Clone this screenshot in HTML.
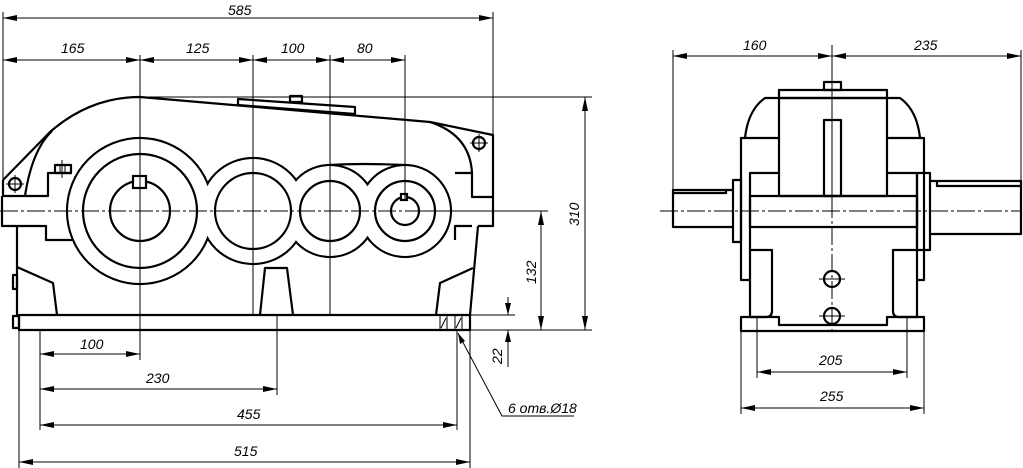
<!DOCTYPE html>
<html><head><meta charset="utf-8">
<style>
html,body{margin:0;padding:0;background:#fff;}
svg{display:block;}
text{font-family:"Liberation Sans",sans-serif;font-style:italic;font-size:14px;fill:#000;}
.k{fill:none;stroke:#000;stroke-width:2.2;stroke-linejoin:round;}
.w{fill:#fff;stroke:#000;stroke-width:2.2;}
.t{fill:none;stroke:#000;stroke-width:1;}
.c{fill:none;stroke:#000;stroke-width:1;stroke-dasharray:18 3 3 3;}
.d{fill:none;stroke:#000;stroke-width:1;marker-start:url(#a);marker-end:url(#a);}
</style></head>
<body>
<svg width="1023" height="468" viewBox="0 0 1023 468" xmlns="http://www.w3.org/2000/svg">
<defs>
<marker id="a" viewBox="0 0 14 6" refX="14" refY="3" markerWidth="14" markerHeight="6" orient="auto-start-reverse" markerUnits="userSpaceOnUse">
<path d="M0,0 L14,3 L0,6 Z" fill="#000"/></marker>
</defs>

<!-- ===== LEFT VIEW ===== -->
<!-- housing upper -->
<path class="k" d="M2,196 L2,226 L46,226 L46,240 L72,240"/>
<path class="k" d="M2,196 L48,196 L48,173 L72,173"/>
<path class="k" d="M3,180 L50,132 Q90,97 140,97 L430,122 Q470,135 472,173 L472,197 L493,197 L493,226 L478,226"/>
<path class="k" d="M430,122 L493,135 L493,197"/>
<path class="k" d="M25,196 Q32,150 52,131"/>
<path class="k" d="M3,180 L3,196"/>
<path class="k" d="M472,173 L455,173"/>
<path class="k" d="M472,226 L455,226 L455,240"/>
<!-- lower body -->
<path class="k" d="M17,226 L17,315"/>
<path class="k" d="M478,226 L470,315"/>
<path class="k" d="M17,267 L53,283 L57,315"/>
<path class="k" d="M473,268 L440,283 L436,315"/>
<path class="k" d="M260,315 L265,268 L287,268 L293,315"/>
<!-- base plate -->
<rect class="k" x="19" y="315" width="451" height="15"/>
<rect class="k" x="13" y="316" width="6" height="12"/>
<rect class="k" x="13" y="275" width="4" height="14"/>
<path class="t" d="M440,315 L440,330 M447,315 L447,330 M455,315 L455,330 M462,315 L462,330 M441,328 L446,318 M456,328 L461,318"/>
<!-- top cover plate -->
<path class="k" d="M238,99 L355,107 L355,114 L238,105 Z"/>
<rect class="k" x="290" y="96" width="12" height="6"/>
<!-- bosses -->
<circle class="k" cx="140" cy="211" r="73"/>
<circle class="k" cx="253" cy="211" r="53"/>
<circle class="k" cx="330" cy="211" r="46"/>
<circle class="k" cx="405" cy="211" r="46"/>
<path class="k" d="M330,165 Q360,163 405,165"/>
<circle cx="140" cy="211" r="71.9" fill="#fff"/>
<circle cx="253" cy="211" r="51.9" fill="#fff"/>
<circle cx="330" cy="211" r="44.9" fill="#fff"/>
<circle cx="405" cy="211" r="44.9" fill="#fff"/>
<circle class="k" cx="140" cy="211" r="57"/>
<circle class="k" cx="140" cy="211" r="30"/>
<rect class="w" x="133" y="176" width="13" height="12"/>
<circle class="k" cx="253" cy="211" r="38"/>
<circle class="k" cx="330" cy="211" r="30"/>
<circle class="k" cx="405" cy="211" r="30"/>
<circle class="k" cx="405" cy="211" r="14"/>
<rect class="w" x="401" y="194" width="6" height="6"/>
<!-- holes -->
<circle class="k" cx="15" cy="184" r="6"/>
<circle class="k" cx="479" cy="143" r="6"/>
<path class="t" d="M6,184 H24 M15,175 V193 M470,143 H488 M479,134 V152"/>
<rect class="k" x="55" y="165" width="16" height="8"/>
<path class="t" d="M60,165 V173 M65,165 V173 M62,160 V178"/>
<!-- centerlines -->
<path class="c" d="M0,211 H548"/>
<path class="t" d="M140,55 V360 M253,55 V315 M330,55 V315 M405,55 V200"/>
<!-- dimensions -->
<path class="t" d="M3,12 V196 M493,12 V135"/>
<line class="d" x1="3" y1="18" x2="493" y2="18"/>
<text x="228" y="15">585</text>
<line class="d" x1="3" y1="60" x2="140" y2="60"/>
<line class="d" x1="140" y1="60" x2="253" y2="60"/>
<line class="d" x1="253" y1="60" x2="330" y2="60"/>
<line class="d" x1="330" y1="60" x2="405" y2="60"/>
<text x="61" y="53">165</text>
<text x="186" y="53">125</text>
<text x="281" y="53">100</text>
<text x="357" y="53">80</text>
<path class="t" d="M140,97 H592 M470,330 H592 M405,211 H548 M470,315 H515"/>
<line class="d" x1="585" y1="97" x2="585" y2="330"/>
<line class="d" x1="541" y1="211" x2="541" y2="330"/>
<text transform="translate(579,226) rotate(-90)">310</text>
<text transform="translate(536,284) rotate(-90)">132</text>
<path class="t" d="M508,297 V315 M508,330 V367"/>
<path d="M508,315 l-3,-12 h6 Z M508,330 l-3,12 h6 Z" fill="#000"/>
<text transform="translate(502,364) rotate(-90)">22</text>
<!-- bottom dims -->
<path class="t" d="M40,330 V430 M19,330 V468 M277,315 V395 M457,330 V430 M470,330 V468"/>
<line class="d" x1="40" y1="354" x2="140" y2="354"/>
<line class="d" x1="40" y1="389" x2="277" y2="389"/>
<line class="d" x1="40" y1="425" x2="457" y2="425"/>
<line class="d" x1="19" y1="462" x2="470" y2="462"/>
<text x="80" y="349">100</text>
<text x="146" y="383">230</text>
<text x="237" y="419">455</text>
<text x="234" y="456">515</text>
<path class="t" d="M458,333 L502,416 H574"/>
<path d="M458,333 l2,11 l5,-3 Z" fill="#000"/>
<text x="508" y="413">6 отв.Ø18</text>

<!-- ===== RIGHT VIEW ===== -->
<rect class="k" x="824" y="82" width="17" height="8"/>
<rect class="k" x="779" y="90" width="108" height="8"/>
<rect class="k" x="779" y="98" width="108" height="98"/>
<path class="k" d="M745,138 Q748,110 765,98 L779,98"/>
<path class="k" d="M920,138 Q917,110 900,98 L887,98"/>
<path class="k" d="M779,138 H741 V280 H750"/>
<path class="k" d="M887,138 H924 V280 H917"/>
<path class="k" d="M779,173 H750 V317 M887,173 H917 V317"/>
<rect class="k" x="750" y="196" width="167" height="31"/>
<rect class="k" x="824" y="120" width="17" height="76"/>
<!-- shafts -->
<path class="k" d="M733,190 H673 V227 H733"/>
<path class="k" d="M673,193 H726 V190"/>
<rect class="k" x="733" y="180" width="8" height="62"/>
<path class="k" d="M930,181 H1021 V234 H930"/>
<path class="k" d="M937,181 V186 H1021"/>
<rect class="k" x="917" y="173" width="13" height="77"/>
<!-- feet -->
<path class="k" d="M750,250 H772 V311 Q772,317 766,317 H750"/>
<path class="k" d="M917,250 H893 V311 Q893,317 899,317 H917"/>
<path class="k" d="M741,317 H779 V325 H887 V317 H924 V331 H741 Z"/>
<circle class="k" cx="832" cy="279" r="8"/>
<circle class="k" cx="832" cy="316" r="8"/>
<path class="t" d="M819,279 H845 M819,316 H845"/>
<path class="c" d="M660,211 H1021"/>
<path class="t" d="M832,45 V200"/>
<path class="c" d="M832,200 V335"/>
<!-- dims right -->
<path class="t" d="M673,50 V190 M1021,50 V181"/>
<line class="d" x1="673" y1="56" x2="832" y2="56"/>
<line class="d" x1="832" y1="56" x2="1021" y2="56"/>
<text x="743" y="50">160</text>
<text x="914" y="50">235</text>
<path class="t" d="M757,317 V378 M907,317 V378 M741,331 V414 M924,331 V414"/>
<line class="d" x1="757" y1="372" x2="907" y2="372"/>
<line class="d" x1="741" y1="408" x2="924" y2="408"/>
<text x="819" y="365">205</text>
<text x="820" y="401">255</text>
</svg>
</body></html>
